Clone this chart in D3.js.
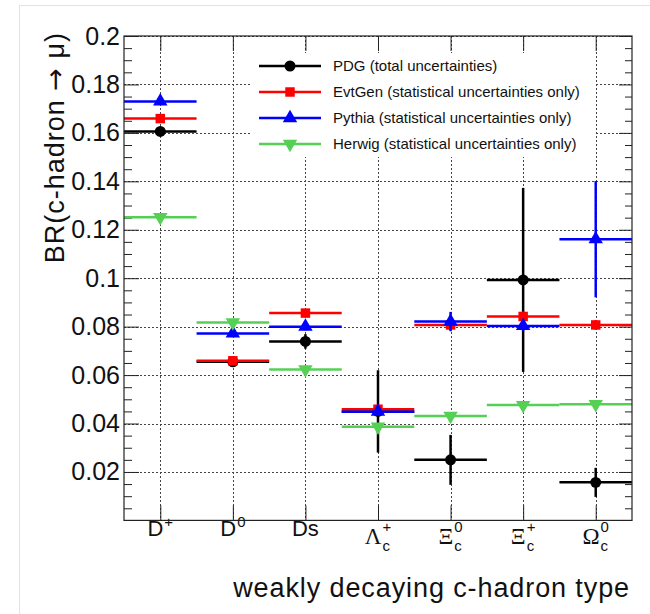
<!DOCTYPE html>
<html>
<head>
<meta charset="utf-8">
<script src="https://cdn.jsdelivr.net/npm/d3@7"></script>
<style>
  body { margin: 0; background: #fff; }
  svg { display: block; font-family: "Liberation Sans", Arial, sans-serif; }
</style>
</head>
<body>
<svg width="650" height="614"></svg>
<script>
// categories and tick labels
var categories = ["D+", "D0", "Ds", "Lc+", "Xic0", "Xic+", "Omc0"];
var labelMain = ["D", "D", "Ds", "\u039B", "\u039E", "\u039E", "\u03A9"];
var labelSup = ["+", "0", "", "+", "0", "+", "0"];
var labelSub = ["", "", "", "c", "c", "c", "c"];
var yMajor = [0.02, 0.04, 0.06, 0.08, 0.1, 0.12, 0.14, 0.16, 0.18, 0.2];

// series values
var pdgVal = [0.1606, 0.0655, 0.0739, 0.045, 0.025, 0.0993, 0.0157];
var pdgErr = [0.001, 0.001, 0.003, 0.017, 0.0103, 0.038, 0.006];
var evtgenVal = [0.1659, 0.0659, 0.0856, 0.0459, 0.0807, 0.0842, 0.0807];
var evtgenErr = [0.001, 0.001, 0.0015, 0.0015, 0.002, 0.002, 0.002];
var pythiaVal = [0.173, 0.0772, 0.080, 0.0449, 0.0821, 0.0803, 0.1161];
var pythiaErr = [0.001, 0.001, 0.0015, 0.0015, 0.004, 0.002, 0.024];
var herwigVal = [0.1252, 0.0817, 0.0623, 0.0387, 0.0431, 0.0476, 0.048];
var herwigErr = [0.0005, 0.0005, 0.0005, 0.0005, 0.0005, 0.0005, 0.0005];

var seriesNames = ["PDG (total uncertainties)", "EvtGen (statistical uncertainties only)",
                   "Pythia (statistical uncertainties only)", "Herwig (statistical uncertainties only)"];
var seriesColors = ["#000000", "#ff0000", "#0000ff", "#55d055"];
var seriesShapes = [d3.symbolCircle, d3.symbolSquare, d3.symbolTriangle, d3.symbolTriangle];

var series = [
  { vals: pdgVal, errs: pdgErr },
  { vals: evtgenVal, errs: evtgenErr },
  { vals: pythiaVal, errs: pythiaErr },
  { vals: herwigVal, errs: herwigErr }
];

var frameLeft = 124, frameRight = 632, frameTop = 36, frameBottom = 520.4;

var svg = d3.select("svg");

// light canvas border
svg.append("rect")
  .attr("x", 19.5).attr("y", 5.5)
  .attr("width", 640).attr("height", 620)
  .attr("fill", "none").attr("stroke", "#e3e3e3");

var x = d3.scaleBand().domain(categories).range([frameLeft, frameRight]);
var y = d3.scaleLinear().domain([0, 0.2]).range([frameBottom, frameTop]);
var xc = d3.scalePoint().domain(categories).range([frameLeft + x.bandwidth() / 2, frameRight - x.bandwidth() / 2]);

// grid
var grid = svg.append("g")
  .attr("stroke", "#444")
  .attr("stroke-width", 1)
  .attr("stroke-dasharray", "2,2");

grid.selectAll(".hg")
  .data(yMajor)
  .enter()
    .append("line")
    .attr("x1", frameLeft).attr("x2", frameRight)
    .attr("y1", d => Math.round(y(d)) + 0.5)
    .attr("y2", d => Math.round(y(d)) + 0.5);

grid.selectAll(".vg")
  .data(categories)
  .enter()
    .append("line")
    .attr("y1", frameTop).attr("y2", frameBottom)
    .attr("x1", d => Math.round(xc(d)) + 0.5)
    .attr("x2", d => Math.round(xc(d)) + 0.5);

// axes ticks (inside the frame)
var minorVals = d3.range(1, 40).filter(i => i % 4 !== 0).map(i => i * 0.005);

function styleAxis(g) {
  g.select(".domain").remove();
  g.selectAll(".tick line").attr("stroke", "#222");
}

svg.append("g")
  .attr("transform", "translate(" + frameLeft + ",0)")
  .call(d3.axisLeft(y).tickValues(yMajor).tickSize(-15).tickSizeOuter(0).tickPadding(4).tickFormat(d3.format("~g")))
  .call(styleAxis)
  .selectAll("text")
    .attr("font-size", "25px")
    .attr("font-family", "Liberation Sans, Arial, sans-serif")
    .attr("fill", "#111");

svg.append("g")
  .attr("transform", "translate(" + frameLeft + ",0)")
  .call(d3.axisLeft(y).tickValues(minorVals).tickSize(-8).tickFormat(""))
  .call(styleAxis);

svg.append("g")
  .attr("transform", "translate(" + frameRight + ",0)")
  .call(d3.axisRight(y).tickValues(yMajor).tickSize(-13).tickFormat(""))
  .call(styleAxis);

svg.append("g")
  .attr("transform", "translate(" + frameRight + ",0)")
  .call(d3.axisRight(y).tickValues(minorVals).tickSize(-7).tickFormat(""))
  .call(styleAxis);

svg.append("g")
  .attr("transform", "translate(0," + frameBottom + ")")
  .call(d3.axisBottom(xc).tickSize(-15).tickFormat(""))
  .call(styleAxis);

svg.append("g")
  .attr("transform", "translate(0," + frameTop + ")")
  .call(d3.axisTop(xc).tickSize(-15).tickFormat(""))
  .call(styleAxis);

// x labels with sub/superscripts
categories.forEach(function(c, i) {
  var cx = xc(c);
  var g = svg.append("g");
  var greek = labelSub[i] !== "";
  var main = g.append("text")
    .attr("y", greek ? 544 : 536)
    .attr("font-size", greek ? "23px" : "22px")
    .attr("font-family", greek ? "Liberation Serif, Times New Roman, serif" : "Liberation Sans, Arial, sans-serif")
    .attr("fill", "#111")
    .text(labelMain[i]);
  var w = main.node().getComputedTextLength();
  var extra = 0;
  if (labelSup[i]) {
    var sup = g.append("text")
      .attr("x", w + 1)
      .attr("y", greek ? 532 : 527)
      .attr("font-size", "15px")
      .attr("fill", "#111")
      .text(labelSup[i]);
    extra = Math.max(extra, sup.node().getComputedTextLength() + 1);
  }
  if (labelSub[i]) {
    var sub = g.append("text")
      .attr("x", w + 1)
      .attr("y", 551)
      .attr("font-size", "15px")
      .attr("fill", "#111")
      .text(labelSub[i]);
    extra = Math.max(extra, sub.node().getComputedTextLength() + 1);
  }
  g.attr("transform", "translate(" + (cx - (w + extra) / 2) + ",0)");
});

// axis titles
svg.append("text")
  .attr("x", 630)
  .attr("y", 597)
  .attr("text-anchor", "end")
  .attr("font-size", "27px")
  .attr("letter-spacing", "0.9px")
  .attr("fill", "#111")
  .text("weakly decaying c-hadron type");

var yTitle = svg.append("text")
  .attr("transform", "rotate(-90)")
  .attr("x", -32)
  .attr("y", 64)
  .attr("text-anchor", "end")
  .attr("font-size", "27px")
  .attr("letter-spacing", "1px")
  .attr("fill", "#111");
yTitle.append("tspan").text("BR(c-hadron ");
yTitle.append("tspan").attr("font-family", "DejaVu Sans").text("\u2192");
yTitle.append("tspan").text(" \u03BC)");

// data: horizontal bin-width bars, vertical error bars, markers
series.forEach(function(s, k) {
  var g = svg.append("g").attr("stroke", seriesColors[k]).attr("stroke-width", 2.5);
  g.selectAll(".hbar")
    .data(categories)
    .enter()
      .append("line")
      .attr("x1", d => x(d))
      .attr("x2", d => x(d) + x.bandwidth())
      .attr("y1", (d, i) => y(s.vals[i]))
      .attr("y2", (d, i) => y(s.vals[i]));
  g.selectAll(".vbar")
    .data(categories)
    .enter()
      .append("line")
      .attr("x1", d => xc(d))
      .attr("x2", d => xc(d))
      .attr("y1", (d, i) => y(s.vals[i] - s.errs[i]))
      .attr("y2", (d, i) => y(s.vals[i] + s.errs[i]));
  g.selectAll(".mk")
    .data(categories)
    .enter()
      .append("path")
      .attr("d", d3.symbol().type(seriesShapes[k]).size(k === 0 ? 95 : 90))
      .attr("transform", (d, i) => "translate(" + xc(d) + "," + y(s.vals[i]) + ")" + (k === 3 ? " rotate(180)" : ""))
      .attr("fill", seriesColors[k])
      .attr("stroke", "none");
});

// frame
svg.append("rect")
  .attr("x", frameLeft).attr("y", frameTop)
  .attr("width", frameRight - frameLeft).attr("height", frameBottom - frameTop)
  .attr("fill", "none")
  .attr("stroke", "#222")
  .attr("stroke-width", 1.2);

// legend
var legend = svg.append("g");
legend.append("rect")
  .attr("x", 250).attr("y", 53)
  .attr("width", 345).attr("height", 104)
  .attr("fill", "#fff");

seriesNames.forEach(function(name, k) {
  var ly = 66 + k * 26;
  legend.append("line")
    .attr("x1", 259).attr("x2", 321)
    .attr("y1", ly).attr("y2", ly)
    .attr("stroke", seriesColors[k])
    .attr("stroke-width", 2.5);
  legend.append("path")
    .attr("d", d3.symbol().type(seriesShapes[k]).size(k === 0 ? 95 : 90))
    .attr("transform", "translate(290," + ly + ")" + (k === 3 ? " rotate(180)" : ""))
    .attr("fill", seriesColors[k]);
  legend.append("text")
    .attr("x", 333)
    .attr("y", ly + 5)
    .attr("font-size", "15px")
    .attr("fill", "#111")
    .text(name);
});
</script>
</body>
</html>
